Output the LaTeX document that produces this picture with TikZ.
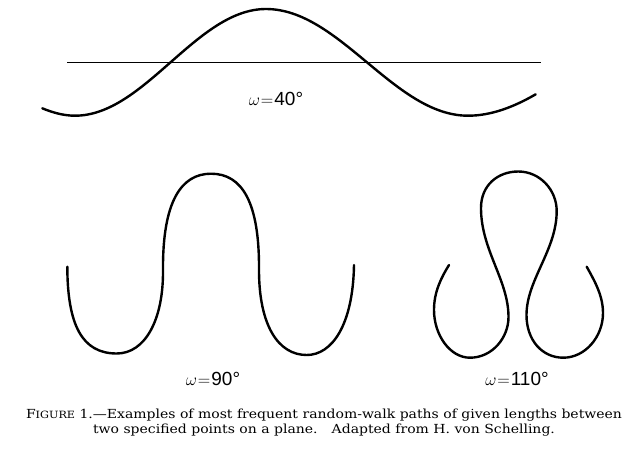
\documentclass[tikz,border=0pt]{standalone}
\usepackage{fontspec}
\newfontfamily\labfont{Liberation Sans}
\newfontfamily\capfont{DejaVu Serif}
\begin{document}
\begin{tikzpicture}[x=1pt,y=-1pt,
  curvepath/.style={line width=2.4pt, line cap=round, line join=round},
  axisline/.style={line width=1.1pt},
  wlabel/.style={inner sep=0pt, anchor=base, font=\fontsize{19}{21}\selectfont},
  caption/.style={inner sep=0pt, anchor=base, font=\capfont\fontsize{12.5}{14}\selectfont}]
\useasboundingbox (0,0) rectangle (630,451);
% omega = 40
\coordinate (l0) at (67,62.7);
\coordinate (l1) at (541,62.7);
\draw[axisline] (l0) -- (l1);
\draw[curvepath] (42.3,108.3) .. controls (53.2,112.8) and (64.1,115.7) .. (75,115.7)
  .. controls (144.5,115.7) and (196.5,9) .. (266,9)
  .. controls (339.5,9) and (394.5,115.7) .. (468,115.7)
  .. controls (490.6,115.7) and (513.1,107.4) .. (535.7,94.3);
\node[wlabel] (w40) at (276,105) {$\omega\mkern1mu{=}\mkern1mu$\labfont 40°};
% omega = 90
\draw[curvepath] (67.3,266.7) .. controls (67.5,325) and (82,353.5) .. (116.7,353.5)
  .. controls (145,353.5) and (163.5,320) .. (163,270)
  .. controls (162.5,202) and (181,173.7) .. (211,173.7)
  .. controls (242,173.7) and (259.5,202) .. (259,270)
  .. controls (259,325) and (278,355) .. (306.7,355)
  .. controls (332,355) and (353,325) .. (354,265);
\node[wlabel] (w90) at (213,385) {$\omega\mkern1mu{=}\mkern1mu$\labfont 90°};
% omega = 110
\draw[curvepath] (449,265) .. controls (441,278) and (434,292) .. (434,310)
  .. controls (434,335) and (450,357.7) .. (470,357.7)
  .. controls (492,357.7) and (508.5,338) .. (508.5,317)
  .. controls (508.5,280) and (481,250) .. (481,208)
  .. controls (481,185) and (498,171.5) .. (518.3,171.5)
  .. controls (540,171.5) and (556.7,190) .. (556.7,211)
  .. controls (556.7,250) and (526.5,280) .. (526.5,315)
  .. controls (526.5,340) and (542,357.7) .. (563.3,357.7)
  .. controls (585,357.7) and (603,337) .. (603,313)
  .. controls (603,295) and (594,280) .. (586.7,266.7);
\node[wlabel] (w110) at (517,385) {$\omega\mkern1mu{=}\mkern1mu$\labfont 110°};
% caption
\node[caption] (cap1) at (324,418) {\scalebox{1.12}[1]{F{\fontsize{10}{11}\selectfont IGURE} 1.—Examples of most frequent random-walk paths of given lengths between}};
\node[caption] (cap2) at (324,433) {\scalebox{1.12}[1]{two specified points on a plane.\quad Adapted from H. von Schelling.}};
\end{tikzpicture}
\end{document}
